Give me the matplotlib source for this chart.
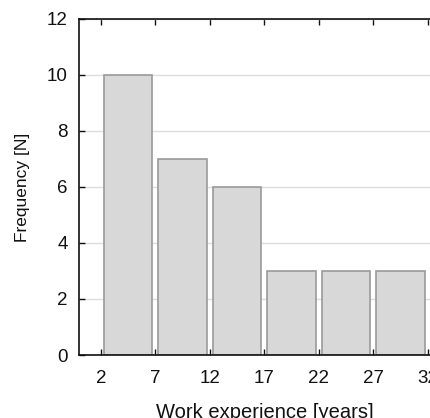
import matplotlib
matplotlib.use('Agg')
import matplotlib.pyplot as plt
import numpy as np

plt.rcParams['font.family'] = ['Liberation Sans', 'DejaVu Sans']

bin_edges = [2, 7, 12, 17, 22, 27, 32]
counts = [10, 7, 6, 3, 3, 3]
xticks = [2, 7, 12, 17, 22, 27, 32]
yticks = [0, 2, 4, 6, 8, 10, 12]

fig = plt.figure(figsize=(4.31, 4.18), dpi=100)
ax = fig.add_axes([0.1833, 0.1507, 0.86, 0.804])

centers = [(a + b) / 2 for a, b in zip(bin_edges[:-1], bin_edges[1:])]
ax.bar(centers, counts, width=4.45, color='#d8d8d8', edgecolor='#9a9a9a',
       linewidth=1.2, zorder=2)

ax.set_xlim(0, 34)
ax.set_ylim(0, 12)
ax.set_xticks(xticks)
ax.set_yticks(yticks)
ax.yaxis.grid(True, color='#dcdcdc', linewidth=1.0, zorder=0)
ax.set_axisbelow(True)

ax.tick_params(axis='x', direction='in', top=True, length=4, width=1,
               labelsize=13.5, pad=11, colors='#111111')
ax.tick_params(axis='y', direction='in', length=4, width=1,
               labelsize=13.5, pad=8, colors='#111111')
for s in ax.spines.values():
    s.set_linewidth(1.2)
    s.set_color('#111111')

ax.set_xlabel('Work experience [years]', fontsize=14.5, labelpad=11, color='#111111')
ax.set_ylabel('Frequency [N]', fontsize=12.5, labelpad=12, color='#111111')

fig.savefig('out.png', dpi=100)
